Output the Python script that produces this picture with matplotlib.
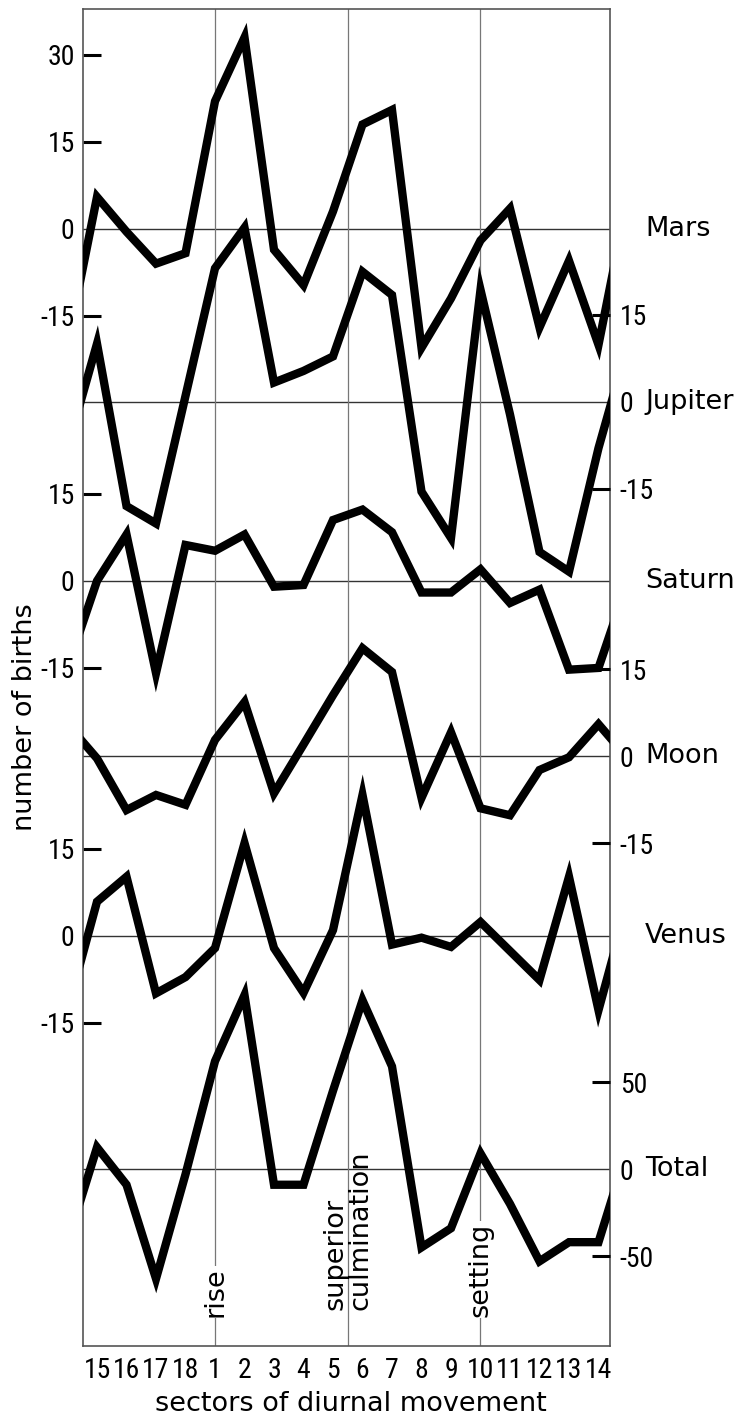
import numpy as np
import matplotlib.pyplot as plt

# sectors of diurnal movement, in plotted order (wraps around at the edges)
sectors = ['15', '16', '17', '18', '1', '2', '3', '4', '5', '6',
           '7', '8', '9', '10', '11', '12', '13', '14']

# deviations in number of births per sector
mars = [5.5, -0.5, -6, -4.2, 22, 33, -3.6, -9.7, 3, 18, 20.5, -20.5,
        -12, -2, 3.5, -17, -5.5, -20]
jupiter = [10, -18, -21, 1, 23, 30, 3.3, 5.3, 7.8, 22.4, 18.4, -15.5,
           -23.5, 19.3, -2.2, -25.9, -29.3, -8]
saturn = [0, 8, -15.9, 6.2, 5.2, 8, -1, -0.7, 10.5, 12.3, 8.4, -2,
          -2, 2, -3.8, -1.5, -15.3, -15]
moon = [-0.4, -9.3, -6.7, -8.4, 2.8, 9.3, -6.4, 2, 10.5, 18.6, 14.5, -7.2,
        4.1, -9, -10.2, -2.4, -0.2, 5.5]
venus = [5.9, 10.2, -9.9, -7.1, -2.1, 16, -2.1, -9.8, 1, 24.3, -1.5, -0.3,
         -1.9, 2.4, -2.6, -7.6, 10.2, -12.8]
total = [12.5, -9, -63, -3, 62, 100, -9, -9, 45, 97, 59, -45,
         -34, 9, -20, -53, -42, -42]

names = ['Mars', 'Jupiter', 'Saturn', 'Moon', 'Venus', 'Total']
series = [mars, jupiter, saturn, moon, venus, total]

# layout: where each curve's zero line sits and its vertical scale
baselines = [192.6, 162.8, 131.9, 101.7, 70.7, 30.5]
scales = [1, 1, 1, 1, 1, 0.3]

FS = 19.5
NUM = dict(family=['Roboto Condensed', 'Lato'], size=20)
plt.rcParams['font.family'] = ['DejaVu Sans']

fig = plt.figure(figsize=(7.44, 14.16), dpi=100)
ax = fig.add_axes([83 / 744, 70 / 1416, 527 / 744, 1337 / 1416])
ax.set_xlim(-0.475, 17.39)
ax.set_ylim(0, 230.5)

n = len(sectors)
x = np.arange(-1, n + 1)

# zero lines
for b in baselines:
    ax.axhline(b, color='#333333', lw=1.0, zorder=1)

# rise, superior culmination, setting
ax.axvline(4, color='#777777', lw=0.9, zorder=1)
ax.axvline(8.5, color='#777777', lw=0.9, zorder=1)
ax.axvline(13, color='#777777', lw=0.9, zorder=1)

for vals, b, s in zip(series, baselines, scales):
    v = [vals[-1]] + list(vals) + [vals[0]]
    y = b + s * np.array(v)
    ax.plot(x, y, color='black', lw=6, solid_joinstyle='miter', zorder=3)

bbox = dict(facecolor='white', edgecolor='none', pad=1)
ax.text(4, 5.0, 'rise', rotation=90, ha='center', va='bottom',
        fontsize=FS, bbox=bbox, zorder=2)
ax.text(8.5, 6.2, 'superior\nculmination', rotation=90, ha='center',
        va='bottom', multialignment='left', fontsize=FS, linespacing=0.95,
        zorder=2)
ax.text(13, 5.0, 'setting', rotation=90, ha='center', va='bottom',
        fontsize=FS, bbox=bbox, zorder=2)

for sp in ax.spines.values():
    sp.set_color('#555555')
    sp.set_linewidth(1.2)

# x axis: labels for every sector, tick marks except at rise and setting
ax.set_xticks(range(n), sectors, **NUM)
ax.tick_params(axis='x', which='major', length=0, pad=8)
ax.set_xticks([i for i in range(n) if i not in (4, 13)], minor=True)
ax.tick_params(axis='x', which='minor', direction='in', length=12.5,
               width=2.2, color='black')

# left axis: Mars, Saturn, Venus
left_major, left_labels = [], []
for k, ticks in ((0, [30, 15, -15]), (2, [15, -15]), (4, [15, -15])):
    for t in ticks:
        left_major.append(baselines[k] + t)
        left_labels.append(str(t))
ax.set_yticks(left_major, left_labels, **NUM)
ax.set_yticks([baselines[0], baselines[2], baselines[4]], ['0', '0', '0'],
              minor=True, **NUM)
ax.tick_params(axis='y', which='major', direction='in', length=13,
               width=2.2, color='black', pad=6)
ax.tick_params(axis='y', which='minor', length=0, pad=6)

# right axis: Jupiter, Moon, Total
ax2 = ax.twinx()
ax2.set_ylim(ax.get_ylim())
right_major, right_labels = [], []
for k, ticks in ((1, [15, -15]), (3, [15, -15]), (5, [50, -50])):
    for t in ticks:
        right_major.append(baselines[k] + scales[k] * t)
        right_labels.append(str(t))
ax2.set_yticks(right_major, right_labels, **NUM)
ax2.set_yticks([baselines[1], baselines[3], baselines[5]], ['0', '0', '0'],
               minor=True, **NUM)
ax2.tick_params(axis='y', which='major', direction='in', length=13,
                width=2.2, color='black', pad=7)
ax2.tick_params(axis='y', which='minor', length=0, pad=7)
for sp in ax2.spines.values():
    sp.set_visible(False)

for name, b in zip(names, baselines):
    ax.annotate(name, xy=(1, b), xycoords=('axes fraction', 'data'),
                xytext=(35, 0), textcoords='offset pixels',
                ha='left', va='center', fontsize=FS)

ax.set_ylabel('number of births', fontsize=FS)
ax.yaxis.set_label_coords(-0.085, 0.47)
ax.set_xlabel('sectors of diurnal movement', fontsize=FS)
ax.xaxis.set_label_coords(0.5085, -0.034)

fig.savefig('out.png', dpi=100)
